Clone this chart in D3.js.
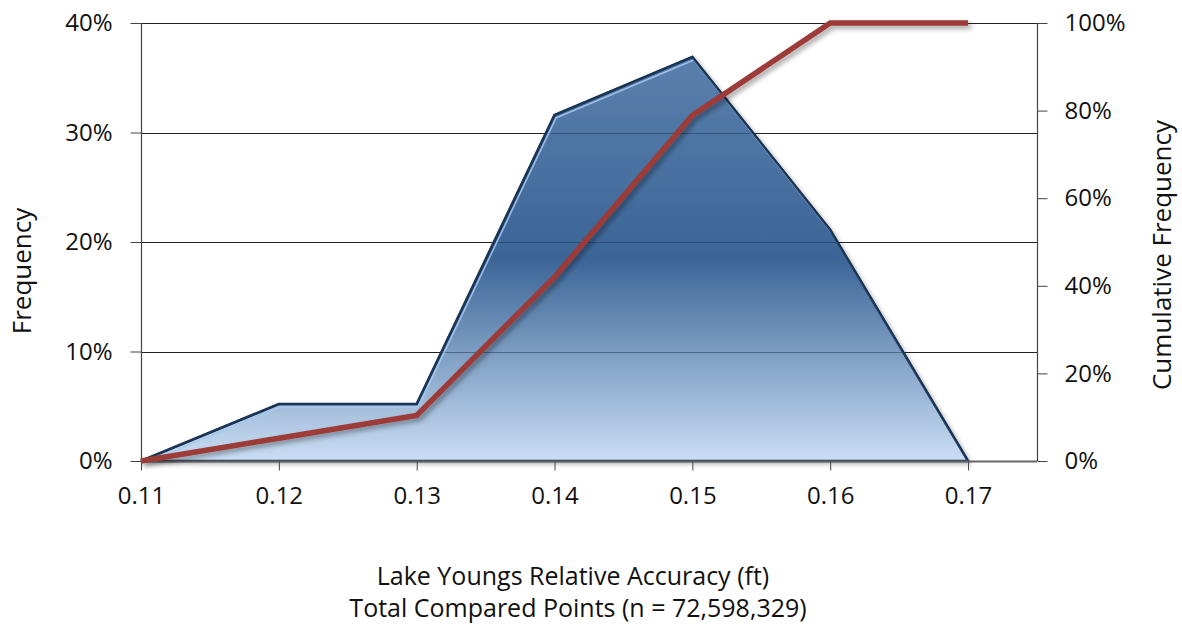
<!DOCTYPE html>
<html>
<head>
<meta charset="utf-8">
<script src="https://cdn.jsdelivr.net/npm/d3@7"></script>
<style>
  html, body { margin: 0; padding: 0; background: #fff; }
  svg { display: block; font-family: "Open Sans", "Noto Sans", sans-serif; }
</style>
</head>
<body>
<svg id="chart" width="1182" height="629"></svg>
<script>
// ---- data ----
const categories = [0.11, 0.12, 0.13, 0.14, 0.15, 0.16, 0.17];
const frequency = [0, 0.052, 0.052, 0.316, 0.369, 0.211, 0];
const cumulative = [0, 0.052, 0.104, 0.420, 0.789, 1.0, 1.0];
const leftTicks = [0, 0.1, 0.2, 0.3, 0.4];
const rightTicks = [0, 0.2, 0.4, 0.6, 0.8, 1.0];
const xTitle1 = "Lake Youngs Relative Accuracy (ft)";
const xTitle2 = "Total Compared Points (n = 72,598,329)";
const yTitleLeft = "Frequency";
const yTitleRight = "Cumulative Frequency";

// ---- layout ----
const L = 141, R = 1037, T = 23, B = 461;
const svg = d3.select("#chart");

const x = d3.scaleLinear().domain([0.11, 0.175]).range([L, R]);
const yL = d3.scaleLinear().domain([0, 0.4]).range([B, T]);
const yR = d3.scaleLinear().domain([0, 1]).range([B, T]);

const defs = svg.append("defs");
const grad = defs.append("linearGradient").attr("id", "areaGrad")
  .attr("x1", 0).attr("y1", 0).attr("x2", 0).attr("y2", 1);
grad.append("stop").attr("offset", "0%").attr("stop-color", "#5a80ad");
grad.append("stop").attr("offset", "50%").attr("stop-color", "#3b6597");
grad.append("stop").attr("offset", "100%").attr("stop-color", "#cadef4");

const sh = defs.append("filter").attr("id", "shadow")
  .attr("x", "-10%").attr("y", "-10%").attr("width", "130%").attr("height", "130%");
sh.append("feDropShadow").attr("dx", 3).attr("dy", 3).attr("stdDeviation", 2.5)
  .attr("flood-color", "#000").attr("flood-opacity", 0.35);

const shA = defs.append("filter").attr("id", "shadowA")
  .attr("x", "-10%").attr("y", "-10%").attr("width", "130%").attr("height", "130%");
shA.append("feDropShadow").attr("dx", 2).attr("dy", 2).attr("stdDeviation", 2)
  .attr("flood-color", "#000").attr("flood-opacity", 0.3);

// gridlines
const gridG = svg.append("g");
gridG.selectAll("line").data(leftTicks.slice(1)).join("line")
  .attr("x1", L).attr("x2", R)
  .attr("y1", d => Math.round(yL(d)) + 0.5).attr("y2", d => Math.round(yL(d)) + 0.5)
  .attr("stroke", "#222").attr("stroke-width", 1);

// area
const area = d3.area().x((d, i) => x(categories[i])).y0(yL(0)).y1(d => yL(d));
const topLine = d3.line().x((d, i) => x(categories[i])).y(d => yL(d));
const areaPath = area(frequency);

defs.append("clipPath").attr("id", "areaClip").append("path").attr("d", areaPath);

svg.append("path").attr("d", areaPath)
  .attr("fill", "url(#areaGrad)")
  .attr("stroke", "#1b3655").attr("stroke-width", 2.5).attr("stroke-linejoin", "miter")
  .attr("filter", "url(#shadowA)");

// gridlines faintly visible through area
svg.append("g").attr("clip-path", "url(#areaClip)")
  .selectAll("line").data(leftTicks.slice(1)).join("line")
  .attr("x1", L).attr("x2", R)
  .attr("y1", d => Math.round(yL(d)) + 0.5).attr("y2", d => Math.round(yL(d)) + 0.5)
  .attr("stroke", "#1b3655").attr("stroke-opacity", 0.5).attr("stroke-width", 1);

// highlight inside top edge
svg.append("g").attr("clip-path", "url(#areaClip)")
  .append("path").attr("d", topLine(frequency))
  .attr("transform", "translate(1.5,3)")
  .attr("fill", "none").attr("stroke", "#a8c8ee").attr("stroke-width", 1.6).attr("stroke-opacity", 0.85);

// redraw outline crisp
svg.append("path").attr("d", topLine(frequency))
  .attr("fill", "none").attr("stroke", "#1b3655").attr("stroke-width", 2.2);

// axes lines
const axG = svg.append("g").attr("stroke", "#444").attr("stroke-width", 1.2);
axG.append("line").attr("x1", L + 0.5).attr("x2", L + 0.5).attr("y1", T).attr("y2", B);
axG.append("line").attr("x1", R + 0.5).attr("x2", R + 0.5).attr("y1", T).attr("y2", B);
axG.append("line").attr("x1", L).attr("x2", R).attr("y1", B + 0.5).attr("y2", B + 0.5).attr("stroke", "#666").attr("stroke-width", 2);

// left axis
const leftAxis = d3.axisLeft(yL).tickValues(leftTicks).tickFormat(d3.format(".0%")).tickSize(11).tickPadding(18);
const gl = svg.append("g").attr("transform", `translate(${L + 0.5},0)`).call(leftAxis);
gl.select(".domain").remove();
gl.selectAll(".tick line").attr("stroke", "#444");
gl.selectAll(".tick text").attr("font-size", 24).attr("fill", "#111").attr("font-family", "Open Sans");

// right axis
const rightAxis = d3.axisRight(yR).tickValues(rightTicks).tickFormat(d3.format(".0%")).tickSize(10).tickPadding(17);
const gr = svg.append("g").attr("transform", `translate(${R + 0.5},0)`).call(rightAxis);
gr.select(".domain").remove();
gr.selectAll(".tick line").attr("stroke", "#444");
gr.selectAll(".tick text").attr("font-size", 24).attr("fill", "#111").attr("font-family", "Open Sans");

// bottom axis
const bottomAxis = d3.axisBottom(x).tickValues(categories).tickFormat(d3.format(".2f")).tickSize(9).tickPadding(16);
const gb = svg.append("g").attr("transform", `translate(0,${B + 0.5})`).call(bottomAxis);
gb.select(".domain").remove();
gb.selectAll(".tick line").attr("stroke", "#444");
gb.selectAll(".tick text").attr("font-size", 24).attr("fill", "#111").attr("font-family", "Open Sans");

// cumulative line
const cumLine = d3.line().x((d, i) => x(categories[i])).y(d => yR(d));
svg.append("path").attr("d", cumLine(cumulative))
  .attr("fill", "none").attr("stroke", "#9c3a37").attr("stroke-width", 5.5)
  .attr("stroke-linejoin", "miter").attr("filter", "url(#shadow)");

// titles
svg.append("text").attr("x", 573).attr("y", 585).attr("text-anchor", "middle")
  .attr("font-size", 25).attr("fill", "#111").text(xTitle1);
svg.append("text").attr("x", 578).attr("y", 617).attr("text-anchor", "middle")
  .attr("font-size", 25).attr("fill", "#111").text(xTitle2);
svg.append("text").attr("transform", "translate(31,271) rotate(-90)").attr("text-anchor", "middle")
  .attr("font-size", 26).attr("fill", "#111").text(yTitleLeft);
svg.append("text").attr("transform", "translate(1171,255) rotate(-90)").attr("text-anchor", "middle")
  .attr("font-size", 26).attr("fill", "#111").text(yTitleRight);
</script>
</body>
</html>
